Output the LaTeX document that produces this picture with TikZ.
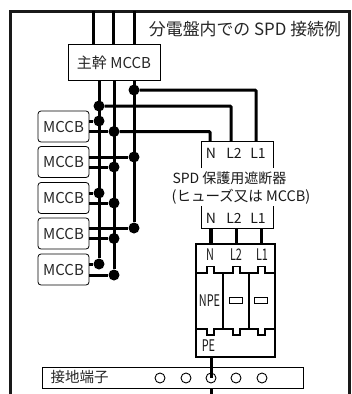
\documentclass[tikz,border=0pt]{standalone}
\usepackage{fontspec}
\setmainfont{Noto Sans CJK JP}
\tikzset{
	breaker/.style={draw, rounded corners=3pt, line width=0.8pt, minimum width=51pt, minimum height=31pt, inner sep=0pt, text=black!85, font=\fontsize{15}{15}\selectfont},
	wire/.style={line width=3pt},
	pin/.style={line width=3pt},
	joint/.style={circle, fill=black, minimum size=11pt, inner sep=0pt},
	hole/.style={circle, draw, line width=0.9pt, minimum size=10pt, inner sep=0pt},
	body/.style={line width=1.5pt},
	label/.style={inner sep=0pt, text=black!85, font=\fontsize{14.5}{15}\selectfont},
	cond/.style={inner sep=0pt, text=black!90, font=\fontsize{14}{14}\selectfont},
	narrow/.style={inner sep=0pt, text=black!90, font=\fontsize{16}{16}\selectfont}
}
\begin{document}
\begin{tikzpicture}[x=1pt, y=-1pt]
	\useasboundingbox (0,0) rectangle (352,394);
	% panel frame
	\coordinate (fa) at (10,394);
	\coordinate (fb) at (10,11);
	\coordinate (fc) at (349,11);
	\coordinate (fd) at (349,394);
	\draw[line width=3pt, black!90] (fa) -- (fb) -- (fc) -- (fd);
	\node[label, font=\fontsize{16.9}{17}\selectfont] (title) at (245,29) {分電盤内での SPD 接続例};

	% main breaker and its feeds
	\node[draw, line width=0.8pt, minimum width=92pt, minimum height=36pt, inner sep=0pt, label, font=\fontsize{15}{15}\selectfont] (main) at (114,62.5) {主幹 MCCB};
	\foreach \x/\n in {93/a, 113/b, 134/c} {
		\coordinate (top\n) at (\x,11);
		\draw[wire] (top\n) -- (top\n |- main.north);
	}

	% branch breakers
	\node[breaker] (m1) at (63.5,126.5) {MCCB};
	\node[breaker] (m2) at (63.5,162) {MCCB};
	\node[breaker] (m3) at (63.5,198) {MCCB};
	\node[breaker] (m4) at (63.5,233.5) {MCCB};
	\node[breaker] (m5) at (63.5,269.5) {MCCB};

	% joints on the three bars
	\node[joint] (j1) at (134,90) {};
	\node[joint] (j2) at (99,106) {};
	\node[joint] (j3) at (99,121) {};
	\node[joint] (j4) at (114,131.5) {};
	\node[joint] (j5) at (134,157) {};
	\node[joint] (j6) at (114,167) {};
	\node[joint] (j7) at (99,193) {};
	\node[joint] (j8) at (114,203) {};
	\node[joint] (j9) at (134,228) {};
	\node[joint] (j10) at (114,238.5) {};
	\node[joint] (j11) at (99,264) {};
	\node[joint] (j12) at (114,275) {};

	\draw[wire] (main.south -| j11) -- (j11);
	\draw[wire] (main.south -| j12) -- (j12);
	\draw[wire] (main.south -| j9) -- (j9);

	\draw[wire] (m1.east |- j3) -- (j3);
	\draw[wire] (m1.east |- j4) -- (j4);
	\draw[wire] (m2.east |- j5) -- (j5);
	\draw[wire] (m2.east |- j6) -- (j6);
	\draw[wire] (m3.east |- j7) -- (j7);
	\draw[wire] (m3.east |- j8) -- (j8);
	\draw[wire] (m4.east |- j9) -- (j9);
	\draw[wire] (m4.east |- j10) -- (j10);
	\draw[wire] (m5.east |- j11) -- (j11);
	\draw[wire] (m5.east |- j12) -- (j12);

	% SPD protection breaker
	\node[cond] (un) at (211,153) {N};
	\node[cond] (ul2) at (234,153) {L2};
	\node[cond] (ul1) at (258,153) {L1};
	\node[cond] (ln) at (211,218) {N};
	\node[cond] (ll2) at (234,218) {L2};
	\node[cond] (ll1) at (258,218) {L1};
	\coordinate (ua) at (201,168);
	\coordinate (ub) at (201,141);
	\coordinate (uc) at (273,141);
	\coordinate (ud) at (273,168);
	\coordinate (la) at (201,206);
	\coordinate (lb) at (201,228.5);
	\coordinate (lc) at (273,228.5);
	\coordinate (ld) at (273,206);
	\draw[line width=0.8pt] (ua) -- (ub) -- (uc) -- (ud);
	\draw[line width=0.8pt] (la) -- (lb) -- (lc) -- (ld);
	\node[cond] (spd) at (229.5,178) {SPD 保護用遮断器};
	\node[cond, font=\fontsize{14.5}{15}\selectfont] (fuse) at (241,197) {(ヒューズ又は MCCB)};

	\coordinate (pn) at (210,141);
	\coordinate (pl2) at (231,141);
	\coordinate (pl1) at (256,141);
	\draw[wire, rounded corners=1pt] (j1) -| (pl1);
	\draw[wire, rounded corners=1pt] (j2) -| (pl2);
	\draw[wire, rounded corners=1pt] (j4) -| (pn);

	% SPD
	\node[draw, body, minimum width=79pt, minimum height=113pt, inner sep=0pt] (dev) at (235.5,300.5) {};
	\coordinate (dl) at (196,273);
	\coordinate (dr) at (275,273);
	\coordinate (el) at (196,329);
	\coordinate (er) at (275,329);
	\draw[body] (dl) -- (207,273) -- (207,266.5) -- (214,266.5) -- (214,273)
		-- (233,273) -- (233,266.5) -- (240,266.5) -- (240,273)
		-- (258,273) -- (258,266.5) -- (265,266.5) -- (265,273) -- (dr);
	\draw[body] (el) -- (207,329) -- (207,335) -- (214,335) -- (214,329)
		-- (233,329) -- (233,335) -- (240,335) -- (240,329)
		-- (258,329) -- (258,335) -- (265,335) -- (265,329) -- (er);
	\coordinate (va) at (223,273);
	\coordinate (vb) at (223,329);
	\coordinate (vc) at (249,273);
	\coordinate (vd) at (249,329);
	\draw[body] (va) -- (vb);
	\draw[body] (vc) -- (vd);
	\node[draw, line width=1.4pt, minimum width=13pt, minimum height=6pt, inner sep=0pt] (w1) at (236,300.5) {};
	\node[draw, line width=1.4pt, minimum width=13pt, minimum height=6pt, inner sep=0pt] (w2) at (261,300.5) {};
	\node[narrow] (dn) at (210,254.5) {\scalebox{.68}[1]{N}};
	\node[narrow] (dl2) at (236,254.5) {\scalebox{.68}[1]{L2}};
	\node[narrow] (dl1) at (262,254.5) {\scalebox{.68}[1]{L1}};
	\node[narrow] (npe) at (209.5,301) {\scalebox{.68}[1]{NPE}};
	\node[narrow] (pe) at (208.5,346) {\scalebox{.68}[1]{PE}};

	\coordinate (qn) at (211,228.5);
	\coordinate (ql2) at (236.5,228.5);
	\coordinate (ql1) at (261,228.5);
	\draw[pin, line width=3.4pt] (qn) -- (qn |- dev.north);
	\draw[pin] (ql2) -- (ql2 |- dev.north);
	\draw[pin] (ql1) -- (ql1 |- dev.north);

	% earth terminal
	\node[draw, line width=1pt, minimum width=261pt, minimum height=21pt, inner sep=0pt] (bar) at (172.5,377.5) {};
	\node[label] (earth) at (79.5,377.5) {接地端子};
	\node[hole] (h1) at (160,378) {};
	\node[hole] (h2) at (186,378) {};
	\node[hole] (h3) at (211,378) {};
	\node[hole] (h4) at (236,378) {};
	\node[hole] (h5) at (262,378) {};
	\coordinate (out) at (211,394);
	\draw[wire] (dev.south -| h3) -- (h3.center);
	\draw[wire] (bar.south -| h3) -- (out);
\end{tikzpicture}
\end{document}
